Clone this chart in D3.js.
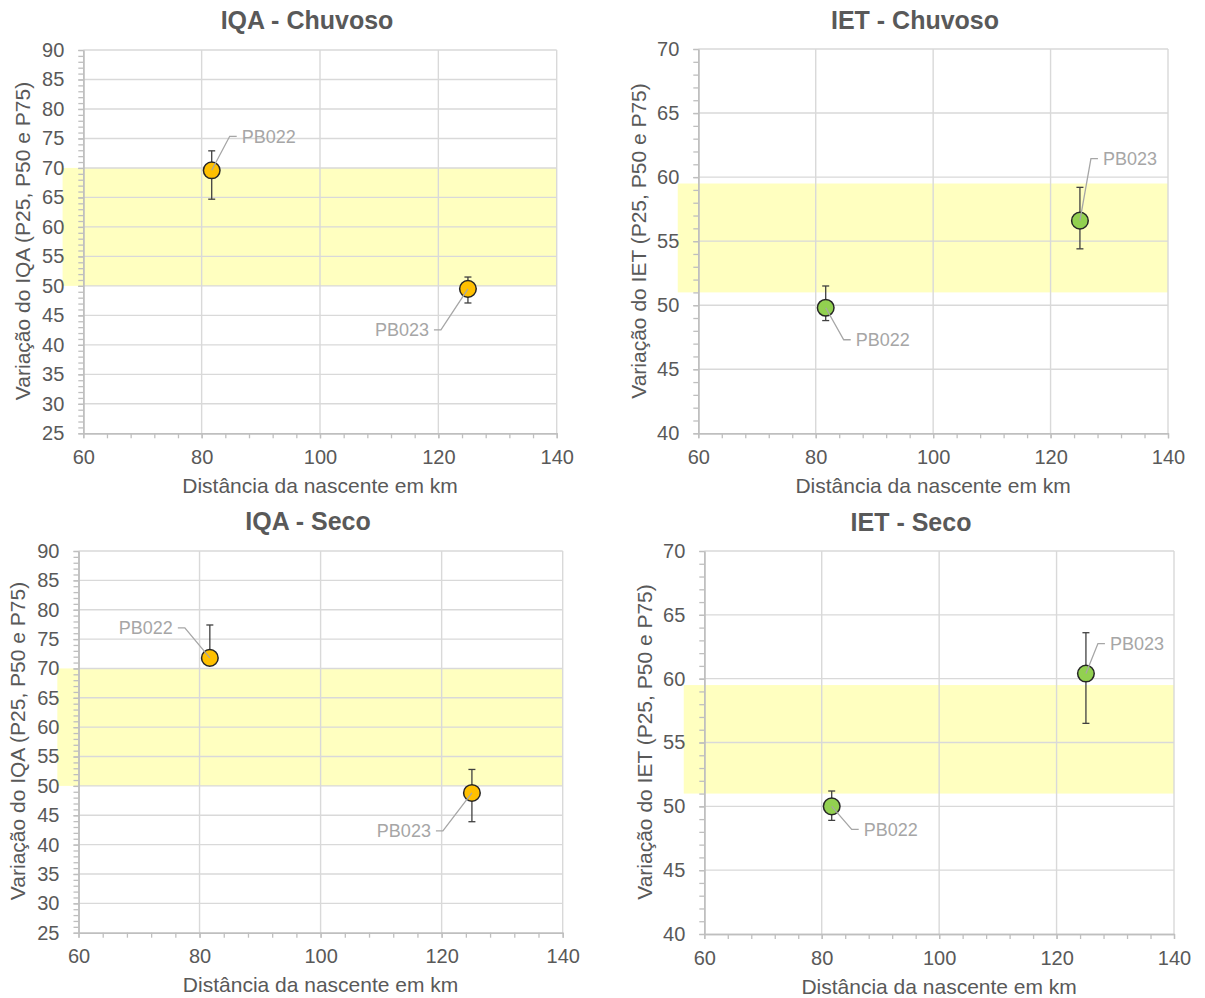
<!DOCTYPE html>
<html>
<head>
<meta charset="utf-8">
<script src="https://cdn.jsdelivr.net/npm/d3@7"></script>
<style>
  body { margin: 0; background: #ffffff; }
  svg { display: block; }
  text { font-family: "Liberation Sans", Arial, sans-serif; }
</style>
</head>
<body>
<svg id="chart" width="1205" height="998"></svg>
<script>
// Monitoring stations and their distance from the source (km)
const stations = ["PB022", "PB023"];
const distanceKm = [81.7, 125];

// IQA, rainy season: percentiles per station
const iqaChuvosoP25 = [64.7, 47.1];
const iqaChuvosoP50 = [69.6, 49.5];
const iqaChuvosoP75 = [72.9, 51.5];

// IET, rainy season
const ietChuvosoP25 = [48.8, 54.4];
const ietChuvosoP50 = [49.8, 56.6];
const ietChuvosoP75 = [51.5, 59.2];

// IQA, dry season
const iqaSecoP25 = [70.9, 43.9];
const iqaSecoP50 = [71.8, 48.8];
const iqaSecoP75 = [77.4, 52.8];

// IET, dry season
const ietSecoP25 = [48.9, 56.5];
const ietSecoP50 = [50.0, 60.4];
const ietSecoP75 = [51.2, 63.6];

// Reference class bands (lower, upper)
const iqaBand = [50, 70];
const ietBand = [51, 59.5];
const bandStartKm = 56.5;

// Axis ticks
const xTicks = [60, 80, 100, 120, 140];
const xMinorTicks = d3.range(60, 140.001, 4);
const iqaTicks = [25, 30, 35, 40, 45, 50, 55, 60, 65, 70, 75, 80, 85, 90];
const ietTicks = [40, 45, 50, 55, 60, 65, 70];

// Panel layout (plot boxes in pixels) and label placement
const panels = [
  { title: "IQA - Chuvoso", yTitle: "Variação do IQA (P25, P50 e P75)",
    p25: iqaChuvosoP25, p50: iqaChuvosoP50, p75: iqaChuvosoP75,
    ticks: iqaTicks, band: iqaBand, fill: "#FFC000",
    box: { l: 83.3, r: 556.7, t: 50, b: 433.3 },
    titleX: 307, titleY: 29.3, yTitleX: 30, yTitleY: 241,
    labels: [ { dx: 30, dy: -34, anchor: "start" }, { dx: -39, dy: 41, anchor: "end" } ] },
  { title: "IET - Chuvoso", yTitle: "Variação do IET (P25, P50 e P75)",
    p25: ietChuvosoP25, p50: ietChuvosoP50, p75: ietChuvosoP75,
    ticks: ietTicks, band: ietBand, fill: "#92D050",
    box: { l: 698.3, r: 1168, t: 49, b: 433.3 },
    titleX: 915, titleY: 29.3, yTitleX: 646, yTitleY: 241,
    labels: [ { dx: 30, dy: 32, anchor: "start" }, { dx: 23, dy: -62, anchor: "start" } ] },
  { title: "IQA - Seco", yTitle: "Variação do IQA (P25, P50 e P75)",
    p25: iqaSecoP25, p50: iqaSecoP50, p75: iqaSecoP75,
    ticks: iqaTicks, band: iqaBand, fill: "#FFC000",
    box: { l: 78.5, r: 562.7, t: 551, b: 932.7 },
    titleX: 308, titleY: 530, yTitleX: 25, yTitleY: 741,
    labels: [ { dx: -37, dy: -30, anchor: "end" }, { dx: -41, dy: 38, anchor: "end" } ] },
  { title: "IET - Seco", yTitle: "Variação do IET (P25, P50 e P75)",
    p25: ietSecoP25, p50: ietSecoP50, p75: ietSecoP75,
    ticks: ietTicks, band: ietBand, fill: "#92D050",
    box: { l: 704.3, r: 1174, t: 551, b: 934 },
    titleX: 911, titleY: 530.5, yTitleX: 652, yTitleY: 742,
    labels: [ { dx: 32, dy: 23, anchor: "start" }, { dx: 24, dy: -30, anchor: "start" } ] }
];

const svg = d3.select("#chart");
const textColor = "#595959";
const gridColor = "#D9D9D9";
const axisColor = "#BFBFBF";
const labelColor = "#A6A6A6";

panels.forEach(p => {
  const g = svg.append("g");
  const { l, r, t, b } = p.box;
  const x = d3.scaleLinear().domain([60, 140]).range([l, r]);
  const yMin = p.ticks[0], yMax = p.ticks[p.ticks.length - 1];
  const y = d3.scaleLinear().domain([yMin, yMax]).range([b, t]);
  const yMinor = d3.range(yMin, yMax + 0.001, 1);

  // class band
  g.append("rect")
    .attr("x", x(bandStartKm)).attr("width", x(140) - x(bandStartKm))
    .attr("y", y(p.band[1])).attr("height", y(p.band[0]) - y(p.band[1]))
    .attr("fill", "#FFFFC0");

  // gridlines
  g.append("g").selectAll("line").data(p.ticks.slice(1)).join("line")
    .attr("x1", l).attr("x2", r)
    .attr("y1", d => y(d)).attr("y2", d => y(d))
    .attr("stroke", gridColor).attr("stroke-width", 1.4);
  g.append("g").selectAll("line").data(xTicks.slice(1)).join("line")
    .attr("x1", d => x(d)).attr("x2", d => x(d))
    .attr("y1", t).attr("y2", b)
    .attr("stroke", gridColor).attr("stroke-width", 1.4);

  // minor ticks
  const minorY = g.append("g").attr("transform", `translate(${l},0)`)
    .call(d3.axisLeft(y).tickValues(yMinor).tickFormat("").tickSize(5).tickSizeOuter(0));
  const minorX = g.append("g").attr("transform", `translate(0,${b})`)
    .call(d3.axisBottom(x).tickValues(xMinorTicks).tickFormat("").tickSize(5).tickSizeOuter(0));

  // major axes
  const yAxis = g.append("g").attr("transform", `translate(${l},0)`)
    .call(d3.axisLeft(y).tickValues(p.ticks).tickSize(5).tickSizeOuter(0).tickPadding(14));
  const xAxis = g.append("g").attr("transform", `translate(0,${b})`)
    .call(d3.axisBottom(x).tickValues(xTicks).tickSize(5).tickSizeOuter(0).tickPadding(11.5));

  [minorY, minorX, yAxis, xAxis].forEach(a => {
    a.select(".domain").attr("stroke", axisColor).attr("stroke-width", 1.5);
    a.selectAll(".tick line").attr("stroke", axisColor).attr("stroke-width", 1.3);
    a.selectAll(".tick text").attr("fill", textColor)
      .style("font-size", "20px").style("font-family", '"Liberation Sans", Arial, sans-serif');
  });

  // error bars (P25 - P75)
  const cap = 3.5;
  const eb = g.append("g").attr("stroke", "#404040").attr("stroke-width", 1.3);
  stations.forEach((s, i) => {
    const cx = x(distanceKm[i]);
    eb.append("line").attr("x1", cx).attr("x2", cx)
      .attr("y1", y(p.p25[i])).attr("y2", y(p.p75[i]));
    [p.p25[i], p.p75[i]].forEach(v => {
      eb.append("line").attr("x1", cx - cap).attr("x2", cx + cap)
        .attr("y1", y(v)).attr("y2", y(v));
    });
  });

  // P50 markers
  g.append("g").selectAll("circle").data(stations).join("circle")
    .attr("cx", (d, i) => x(distanceKm[i]))
    .attr("cy", (d, i) => y(p.p50[i]))
    .attr("r", 8.3)
    .attr("fill", p.fill)
    .attr("stroke", "#262626").attr("stroke-width", 1.5);

  // station labels with leader lines
  stations.forEach((s, i) => {
    const cx = x(distanceKm[i]), cy = y(p.p50[i]);
    const L = p.labels[i];
    const tx = cx + L.dx, ty = cy + L.dy;
    const sign = L.anchor === "start" ? -1 : 1;
    const elbowX = tx + sign * 12, endX = tx + sign * 5;
    g.append("path")
      .attr("d", `M${cx},${cy}L${elbowX},${ty}L${endX},${ty}`)
      .attr("fill", "none").attr("stroke", labelColor).attr("stroke-width", 1.3);
    g.append("text")
      .attr("x", tx).attr("y", ty).attr("dy", "0.35em")
      .attr("text-anchor", L.anchor)
      .attr("fill", labelColor).style("font-size", "18px")
      .text(s);
  });

  // titles
  g.append("text")
    .attr("x", p.titleX).attr("y", p.titleY)
    .attr("text-anchor", "middle")
    .attr("fill", textColor).style("font-size", "25px").style("font-weight", "bold")
    .text(p.title);

  g.append("text")
    .attr("x", (l + r) / 2).attr("y", b + 59.5)
    .attr("text-anchor", "middle")
    .attr("fill", textColor).style("font-size", "21px")
    .text("Distância da nascente em km");

  g.append("text")
    .attr("transform", `translate(${p.yTitleX},${p.yTitleY}) rotate(-90)`)
    .attr("text-anchor", "middle")
    .attr("fill", textColor).style("font-size", "21px")
    .text(p.yTitle);
});
</script>
</body>
</html>
